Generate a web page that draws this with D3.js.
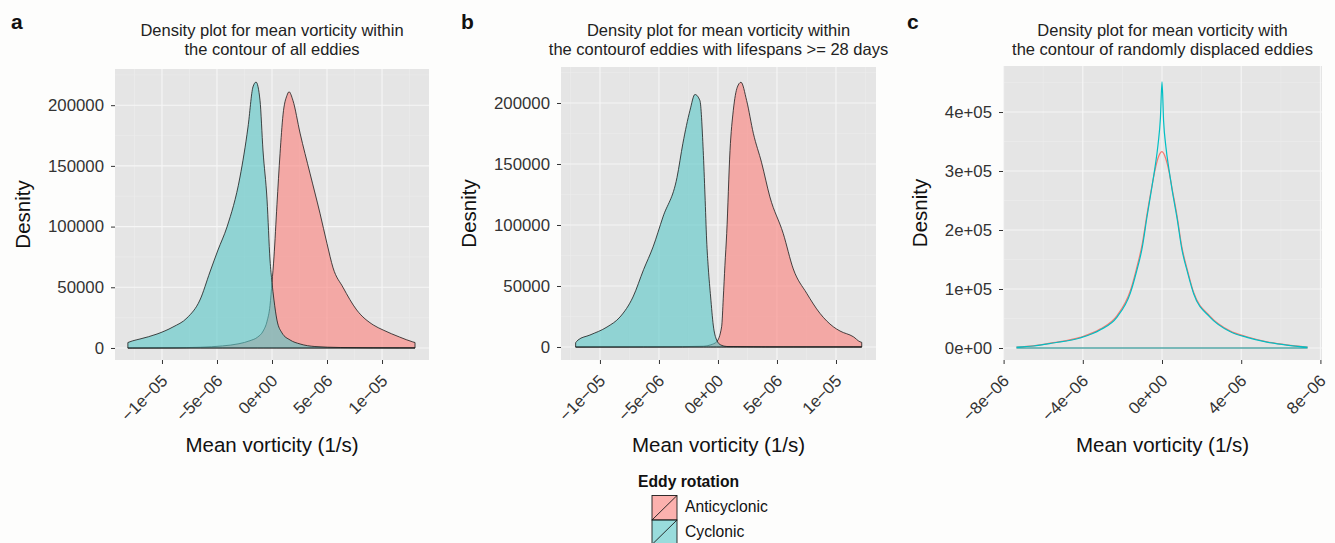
<!DOCTYPE html>
<html lang="en">
<head>
<meta charset="utf-8">
<title>Eddy vorticity density</title>
<script src="https://d3js.org/d3.v7.min.js"></script>
<style>
  body { margin: 0; background: #fdfdfc; }
  svg { font-family: "Liberation Sans", Arial, Helvetica, sans-serif; }
  .tick text { font-size: 16.8px; fill: #333; }
  .tick line { stroke: #333; }
  .ttl { font-size: 16.5px; fill: #222; text-anchor: middle; }
  .axis-title { font-size: 20.5px; fill: #111; text-anchor: middle; }
  .tag { font-size: 21px; font-weight: bold; fill: #111; }
  .legend-text { font-size: 15.7px; fill: #111; }
</style>
</head>
<body>
<svg id="chart" width="1335" height="543"></svg>
<script>
// vorticity values are in units of 1e-6 1/s
const rotations = ["Anticyclonic", "Cyclonic"];

const xTicksAB = [-10, -5, 0, 5, 10];
const xLabelsAB = ["\u22121e\u221205", "\u22125e\u221206", "0e+00", "5e\u221206", "1e\u221205"];
const xTicksC = [-8, -4, 0, 4, 8];
const xLabelsC = ["\u22128e\u221206", "\u22124e\u221206", "0e+00", "4e\u221206", "8e\u221206"];
const yTicksAB = [0, 50000, 100000, 150000, 200000];
const yLabelsAB = ["0", "50000", "100000", "150000", "200000"];
const yTicksC = [0, 100000, 200000, 300000, 400000];
const yLabelsC = ["0e+00", "1e+05", "2e+05", "3e+05", "4e+05"];

// panel a: all eddies
const aAnti = [[-13.1, 50], [-9, 200], [-6.5, 600], [-4.5, 1700], [-3.0, 3500], [-2.0, 6000],
  [-1.3, 9000], [-0.8, 14000], [-0.45, 22000], [-0.18, 35000], [0, 54000], [0.18, 75000],
  [0.45, 118000], [0.73, 160000], [1.0, 192000], [1.36, 208000], [1.55, 211000], [1.9, 204000],
  [2.55, 177000], [3.45, 144000], [4.36, 111000], [5.0, 86000], [5.55, 66000], [6.45, 50000],
  [7.7, 31300], [9.2, 19000], [10.1, 14800], [11.6, 9000], [12.8, 5000], [13.0, 4500]];
const aCyc = [[-13.1, 4500], [-12.7, 5800], [-12.0, 7400], [-10.45, 11500], [-9.0, 17300],
  [-7.73, 24700], [-6.55, 39500], [-5.64, 62600], [-4.91, 80700], [-4.09, 99700], [-2.91, 140800],
  [-2.18, 182000], [-1.73, 215000], [-1.45, 219000], [-1.09, 204000], [-0.82, 163000],
  [-0.45, 122000], [-0.18, 72500], [0, 54000], [0.18, 39500], [0.45, 23000], [0.91, 12400],
  [1.64, 6600], [2.55, 3300], [3.9, 1200], [6.2, 400], [9, 150], [13.0, 50]];

// panel b: lifespans >= 28 days
const bAnti = [[-12.06, 30], [-6, 150], [-3, 300], [-1.25, 600], [-0.6, 1800], [-0.11, 4300],
  [0.31, 16600], [0.45, 40000], [0.59, 67000], [0.74, 93000], [1.02, 161000], [1.3, 194000],
  [1.64, 213000], [1.95, 217000], [2.43, 202000], [3.0, 175000], [3.7, 151000], [4.4, 123000],
  [5.53, 93000], [6.38, 64000], [7.52, 44000], [8.64, 27600], [9.77, 16600], [10.34, 13100],
  [11.47, 8400], [12.03, 4300], [12.18, 3800]];
const bCyc = [[-12.06, 3500], [-11.86, 5700], [-10.85, 9800], [-9.4, 16400], [-8.3, 24600],
  [-7.2, 41000], [-6.3, 63500], [-5.5, 82000], [-4.66, 106600], [-3.47, 139000], [-2.97, 167000],
  [-2.37, 194000], [-1.95, 207000], [-1.53, 202000], [-1.25, 161000], [-1.1, 124600],
  [-0.96, 87700], [-0.82, 64800], [-0.62, 41000], [-0.4, 18000], [-0.11, 5700], [0.25, 1600],
  [0.76, 400], [4, 100], [12.18, 30]];

// panel c: randomly displaced eddies
const cAnti = [[-7.32, 1700], [-6.5, 3700], [-5.5, 9000], [-4.14, 18000], [-3.13, 32000],
  [-2.27, 55000], [-1.6, 97000], [-1.3, 133000], [-1.0, 176000], [-0.76, 226000], [-0.5, 276000],
  [-0.35, 302000], [-0.2, 322000], [-0.1, 330000], [0, 333000], [0.1, 329000], [0.2, 320000],
  [0.35, 300000], [0.5, 272000], [0.76, 224000], [1.0, 172000], [1.3, 130000], [1.6, 94000],
  [2.42, 54000], [3.43, 29000], [4.29, 19000], [5.3, 10500], [6.3, 5300], [7.32, 1700]];
const cCyc = [[-7.32, 1500], [-6.5, 3400], [-5.5, 8500], [-4.14, 17000], [-3.13, 30500],
  [-2.27, 52500], [-1.6, 93000], [-1.3, 128000], [-1.0, 170000], [-0.76, 222000], [-0.5, 275000],
  [-0.35, 307000], [-0.2, 345000], [-0.08, 390000], [0, 451000], [0.08, 385000], [0.2, 340000],
  [0.35, 303000], [0.5, 270000], [0.76, 220000], [1.0, 168000], [1.3, 127000], [1.6, 92000],
  [2.42, 52500], [3.43, 28000], [4.29, 18000], [5.3, 10000], [6.3, 5000], [7.32, 1500]];

const lineColors = ["#F8766D", "#00BFC4"];
const fillColors = ["#FC7F79", "#56C7C7"];

const panels = [
  { tag: "a", tagX: 11, title: ["Density plot for mean vorticity within", "the contour of all eddies"],
    left: 115, right: 429, top: 69, bottom: 360, xDomain: [-14.27, 14.27], yDomain: [-9900, 229800],
    xTicks: xTicksAB, xLabels: xLabelsAB, yTicks: yTicksAB, yLabels: yLabelsAB,
    series: [aAnti, aCyc], filled: true, minorX: 2.5, minorY: 25000 },
  { tag: "b", tagX: 461, title: ["Density plot for mean vorticity within", "the contourof eddies with lifespans >= 28 days"],
    left: 561, right: 876, top: 67, bottom: 360, xDomain: [-13.3, 13.39], yDomain: [-10660, 229500],
    xTicks: xTicksAB, xLabels: xLabelsAB, yTicks: yTicksAB, yLabels: yLabelsAB,
    series: [bAnti, bCyc], filled: true, minorX: 2.5, minorY: 25000 },
  { tag: "c", tagX: 907, title: ["Density plot for mean vorticity with", "the contour of randomly displaced eddies"],
    left: 1003, right: 1322, top: 66, bottom: 360, xDomain: [-8.03, 8.08], yDomain: [-20340, 478000],
    xTicks: xTicksC, xLabels: xLabelsC, yTicks: yTicksC, yLabels: yLabelsC,
    series: [cAnti, cCyc], filled: false, minorX: 2, minorY: 50000 }
];

const svg = d3.select("#chart");

panels.forEach(function(p) {
  const x = d3.scaleLinear().domain(p.xDomain).range([p.left, p.right]);
  const y = d3.scaleLinear().domain(p.yDomain).range([p.bottom, p.top]);
  const g = svg.append("g");

  g.append("rect")
    .attr("x", p.left).attr("y", p.top)
    .attr("width", p.right - p.left).attr("height", p.bottom - p.top)
    .attr("fill", "#e5e5e5");

  // minor grid at the midpoints, then major grid at the ticks
  const xMinor = d3.range(p.xTicks[0] - p.minorX, p.xTicks[p.xTicks.length - 1] + 2 * p.minorX, 2 * p.minorX)
    .filter(v => x(v) > p.left && x(v) < p.right);
  const yMinor = d3.range(p.yTicks[0] - p.minorY, p.yTicks[p.yTicks.length - 1] + 2 * p.minorY, 2 * p.minorY)
    .filter(v => y(v) > p.top && y(v) < p.bottom);
  g.selectAll(".minx").data(xMinor).enter().append("line")
    .attr("x1", d => x(d)).attr("x2", d => x(d)).attr("y1", p.top).attr("y2", p.bottom)
    .attr("stroke", "#ececec").attr("stroke-width", 0.6);
  g.selectAll(".miny").data(yMinor).enter().append("line")
    .attr("y1", d => y(d)).attr("y2", d => y(d)).attr("x1", p.left).attr("x2", p.right)
    .attr("stroke", "#ececec").attr("stroke-width", 0.6);
  g.selectAll(".majx").data(p.xTicks).enter().append("line")
    .attr("x1", d => x(d)).attr("x2", d => x(d)).attr("y1", p.top).attr("y2", p.bottom)
    .attr("stroke", "#f6f6f6").attr("stroke-width", 1.1);
  g.selectAll(".majy").data(p.yTicks).enter().append("line")
    .attr("y1", d => y(d)).attr("y2", d => y(d)).attr("x1", p.left).attr("x2", p.right)
    .attr("stroke", "#f6f6f6").attr("stroke-width", 1.1);

  const area = d3.area()
    .x(d => x(d[0]))
    .y0(y(0))
    .y1(d => y(d[1]))
    .curve(d3.curveMonotoneX);

  p.series.forEach(function(s, i) {
    const path = g.append("path").datum(s).attr("d", d => area(d) + "Z");
    if (p.filled) {
      path.attr("fill", fillColors[i]).attr("fill-opacity", 0.6)
        .attr("stroke", "#1a1a1a").attr("stroke-width", 0.8).attr("stroke-linejoin", "round");
    } else {
      path.attr("fill", "none").attr("stroke", lineColors[i]).attr("stroke-width", 1.2);
    }
  });

  // axes
  const yAxis = g.append("g")
    .attr("transform", "translate(" + p.left + ",0)")
    .call(d3.axisLeft(y).tickValues(p.yTicks).tickFormat((d, i) => p.yLabels[i]).tickSize(4).tickPadding(7));
  yAxis.select(".domain").remove();
  yAxis.attr("font-family", null).attr("font-size", null);

  const xAxis = g.append("g")
    .attr("transform", "translate(0," + p.bottom + ")")
    .call(d3.axisBottom(x).tickValues(p.xTicks).tickFormat((d, i) => p.xLabels[i]).tickSize(4));
  xAxis.select(".domain").remove();
  xAxis.attr("font-family", null).attr("font-size", null);
  xAxis.selectAll("text")
    .attr("y", 0).attr("dy", 0)
    .attr("text-anchor", "end")
    .attr("transform", "translate(6,22) rotate(-45)");

  // widest y label decides where the y title goes
  let maxW = 0;
  yAxis.selectAll("text").each(function() { maxW = Math.max(maxW, this.getComputedTextLength()); });

  const cx = (p.left + p.right) / 2;
  g.append("text").attr("class", "ttl").attr("x", cx).attr("y", 36).text(p.title[0]);
  g.append("text").attr("class", "ttl").attr("x", cx).attr("y", 55).text(p.title[1]);
  g.append("text").attr("class", "axis-title").attr("x", cx).attr("y", 452).text("Mean vorticity (1/s)");
  g.append("text").attr("class", "axis-title")
    .attr("transform", "translate(" + (p.left - 11 - maxW - 18) + "," + ((p.top + p.bottom) / 2) + ") rotate(-90)")
    .text("Desnity");
  g.append("text").attr("class", "tag").attr("x", p.tagX).attr("y", 29).text(p.tag);
});

// legend
const leg = svg.append("g").attr("transform", "translate(638,487)");
leg.append("text").attr("font-size", "15.7px").attr("font-weight", "bold").attr("fill", "#111")
  .text("Eddy rotation");
rotations.forEach(function(r, i) {
  const k = leg.append("g").attr("transform", "translate(14," + (8.5 + i * 24.5) + ")");
  k.append("rect").attr("width", 25).attr("height", 24.5)
    .attr("fill", fillColors[i]).attr("fill-opacity", 0.6)
    .attr("stroke", "#1a1a1a").attr("stroke-width", 0.9);
  k.append("line").attr("x1", 0).attr("y1", 24.5).attr("x2", 25).attr("y2", 0)
    .attr("stroke", "#1a1a1a").attr("stroke-width", 0.9);
  leg.append("text").attr("class", "legend-text").attr("x", 47).attr("y", 25 + i * 25).text(r);
});
</script>
</body>
</html>
